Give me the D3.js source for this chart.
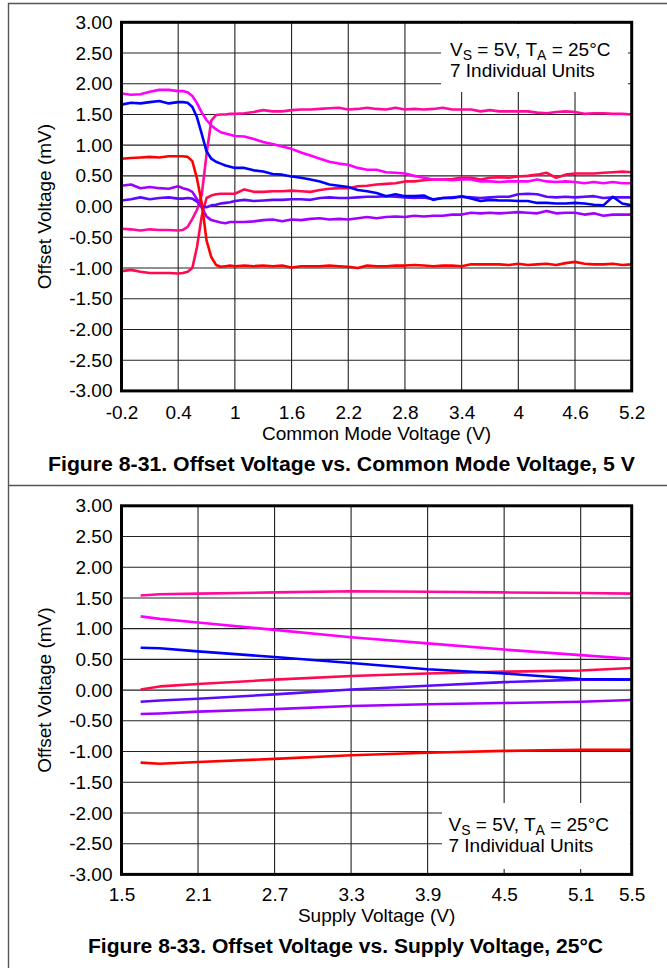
<!DOCTYPE html>
<html>
<head>
<meta charset="utf-8">
<script src="https://cdn.jsdelivr.net/npm/d3@7"></script>
<style>
  body { margin: 0; background: #fff; }
  svg { display: block; }
  text { font-family: 'Liberation Sans', Arial, sans-serif; fill: #000; }
</style>
</head>
<body>
<svg></svg>
<script>
// ---- Figure 8-31: offset voltage vs common mode voltage (7 units) ----
let cmVoltage = [
  -0.2, -0.1, 0, 0.1, 0.2, 0.3, 0.4,
  0.45, 0.5, 0.55, 0.6, 0.65, 0.7, 0.75, 0.8, 0.85, 0.9, 0.95,
  1, 1.1, 1.2, 1.3, 1.4, 1.5, 1.6, 1.7, 1.8, 1.9,
  2, 2.1, 2.2, 2.3, 2.4, 2.5, 2.6, 2.7, 2.8, 2.9,
  3, 3.1, 3.2, 3.3, 3.4, 3.5, 3.6, 3.7, 3.8, 3.9,
  4, 4.1, 4.2, 4.3, 4.4, 4.5, 4.6, 4.7, 4.8, 4.9,
  5, 5.1, 5.2
]
let cmUnitMagenta = [
  1.84, 1.82, 1.83, 1.87, 1.90, 1.90, 1.88,
  1.88, 1.86, 1.80, 1.68, 1.53, 1.41, 1.32, 1.26, 1.21, 1.19, 1.17,
  1.15, 1.14, 1.10, 1.05, 1.02, 0.98, 0.94, 0.88, 0.83, 0.78,
  0.73, 0.70, 0.68, 0.63, 0.60, 0.60, 0.56, 0.55, 0.54, 0.50,
  0.47, 0.44, 0.44, 0.43, 0.44, 0.44, 0.41, 0.41, 0.40, 0.41,
  0.41, 0.41, 0.44, 0.41, 0.40, 0.41, 0.40, 0.38, 0.40, 0.38,
  0.40, 0.38, 0.38
]
let cmUnitBlue = [
  1.66, 1.69, 1.68, 1.70, 1.72, 1.68, 1.70,
  1.70, 1.69, 1.62, 1.45, 1.18, 0.90, 0.78, 0.73, 0.70, 0.67, 0.65,
  0.63, 0.63, 0.59, 0.57, 0.53, 0.52, 0.49, 0.47, 0.44, 0.41,
  0.36, 0.34, 0.32, 0.27, 0.25, 0.22, 0.17, 0.20, 0.17, 0.17,
  0.18, 0.11, 0.14, 0.14, 0.17, 0.13, 0.09, 0.11, 0.10, 0.10,
  0.09, 0.09, 0.06, 0.06, 0.05, 0.05, 0.06, 0.05, 0.03, 0.02,
  0.16, 0.05, 0.02
]
let cmUnitRed = [
  0.78, 0.79, 0.80, 0.81, 0.80, 0.82, 0.82,
  0.82, 0.81, 0.74, 0.45, 0.05, -0.55, -0.82, -0.95, -0.98, -0.97, -0.96,
  -0.97, -0.96, -0.97, -0.96, -0.97, -0.96, -0.99, -0.97, -0.97, -0.97,
  -0.96, -0.97, -0.98, -1.00, -0.96, -0.97, -0.97, -0.96, -0.96, -0.95,
  -0.96, -0.97, -0.96, -0.96, -0.97, -0.94, -0.94, -0.94, -0.94, -0.95,
  -0.93, -0.95, -0.94, -0.93, -0.95, -0.92, -0.90, -0.93, -0.94, -0.94,
  -0.93, -0.95, -0.94
]
let cmUnitCrimson = [
  -1.05, -1.03, -1.06, -1.08, -1.08, -1.08, -1.09,
  -1.08, -1.06, -1.00, -0.65, -0.15, 0.14, 0.18, 0.20, 0.21, 0.21, 0.21,
  0.21, 0.28, 0.24, 0.24, 0.25, 0.25, 0.26, 0.25, 0.24, 0.27,
  0.29, 0.30, 0.30, 0.33, 0.34, 0.36, 0.37, 0.38, 0.41, 0.41,
  0.43, 0.44, 0.44, 0.45, 0.47, 0.47, 0.44, 0.47, 0.48, 0.47,
  0.49, 0.50, 0.52, 0.55, 0.47, 0.52, 0.54, 0.54, 0.54, 0.55,
  0.56, 0.57, 0.56
]
let cmUnitPink = [
  -0.36, -0.37, -0.39, -0.37, -0.38, -0.38, -0.39,
  -0.38, -0.33, -0.20, -0.05, 0.20, 0.85, 1.40, 1.49, 1.50, 1.50, 1.51,
  1.51, 1.52, 1.54, 1.57, 1.55, 1.55, 1.57, 1.58, 1.58, 1.59,
  1.60, 1.61, 1.58, 1.59, 1.61, 1.59, 1.58, 1.61, 1.58, 1.59,
  1.58, 1.59, 1.61, 1.58, 1.58, 1.58, 1.55, 1.57, 1.55, 1.55,
  1.55, 1.55, 1.53, 1.52, 1.54, 1.55, 1.54, 1.51, 1.52, 1.52,
  1.51, 1.51, 1.50
]
let cmUnitPurple = [
  0.34, 0.36, 0.30, 0.32, 0.30, 0.29, 0.33,
  0.30, 0.28, 0.24, 0.12, -0.02, -0.16, -0.22, -0.24, -0.26, -0.27, -0.25,
  -0.25, -0.25, -0.24, -0.22, -0.21, -0.24, -0.21, -0.22, -0.20, -0.19,
  -0.21, -0.20, -0.21, -0.19, -0.17, -0.19, -0.17, -0.16, -0.17, -0.15,
  -0.16, -0.15, -0.15, -0.13, -0.13, -0.10, -0.11, -0.10, -0.11, -0.10,
  -0.09, -0.10, -0.11, -0.07, -0.11, -0.10, -0.10, -0.13, -0.11, -0.15,
  -0.13, -0.13, -0.13
]
let cmUnitViolet = [
  0.10, 0.12, 0.15, 0.12, 0.14, 0.15, 0.13,
  0.13, 0.14, 0.13, 0.08, 0.01, -0.01, 0.02, 0.03, 0.05, 0.06, 0.07,
  0.09, 0.11, 0.09, 0.10, 0.11, 0.11, 0.12, 0.12, 0.11, 0.14,
  0.15, 0.14, 0.14, 0.15, 0.16, 0.16, 0.17, 0.16, 0.15, 0.14,
  0.15, 0.12, 0.14, 0.15, 0.16, 0.15, 0.14, 0.15, 0.16, 0.16,
  0.20, 0.21, 0.20, 0.16, 0.15, 0.16, 0.15, 0.16, 0.17, 0.14,
  0.15, 0.15, 0.15
]
let cmTicks = [-0.2, 0.4, 1, 1.6, 2.2, 2.8, 3.4, 4, 4.6, 5.2]

// ---- Figure 8-33: offset voltage vs supply voltage (7 units) ----
let supplyVoltage = [1.65, 1.8, 2.1, 2.7, 3.3, 3.9, 4.5, 5.1, 5.5]
let svUnitPink    = [1.54, 1.56, 1.57, 1.59, 1.61, 1.60, 1.59, 1.58, 1.57]
let svUnitMagenta = [1.20, 1.16, 1.10, 0.98, 0.86, 0.76, 0.66, 0.57, 0.51]
let svUnitBlue    = [0.69, 0.68, 0.63, 0.54, 0.44, 0.34, 0.27, 0.18, 0.17]
let svUnitCrimson = [0.01, 0.06, 0.10, 0.17, 0.23, 0.27, 0.30, 0.32, 0.36]
let svUnitViolet  = [-0.19, -0.17, -0.14, -0.07, 0.01, 0.07, 0.13, 0.17, 0.17]
let svUnitPurple  = [-0.39, -0.38, -0.35, -0.31, -0.26, -0.23, -0.21, -0.19, -0.16]
let svUnitRed     = [-1.18, -1.20, -1.17, -1.12, -1.06, -1.02, -0.99, -0.97, -0.97]
let svTicks = [1.5, 2.1, 2.7, 3.3, 3.9, 4.5, 5.1, 5.5]

let offsetTicks = [3, 2.5, 2, 1.5, 1, 0.5, 0, -0.5, -1, -1.5, -2, -2.5, -3]

// ---- layout ----
let width = 667
let height = 968
let plotLeft = 121.5
let plotRight = 631.7
let plotHeight = 368.6
let fontSize = '19px'

let colors = {
  magenta: '#ff00ff',
  blue: '#0000ff',
  red: '#ff0000',
  crimson: '#ff0a4e',
  pink: '#ff0a9c',
  purple: '#a000ff',
  violet: '#5a0aff'
}

let svg = d3.select('svg')
  .attr('width', width)
  .attr('height', height)

let drawFrame = () => {
  svg.append('path')
    .attr('d', 'M8.5,968V3.5H667M8.5,485.5H667')
    .attr('fill', 'none')
    .attr('stroke', '#555')
    .attr('stroke-width', 1.4)
}

let drawPanel = (p) => {
  let top = p.top
  let bottom = top + plotHeight

  let xScale = d3.scaleLinear()
    .domain([p.xTicks[0], p.xTicks[p.xTicks.length - 1]])
    .range([plotLeft, plotRight])

  let yScale = d3.scaleLinear()
    .domain([-3, 3])
    .range([bottom, top])

  let g = svg.append('g')

  // grid
  g.selectAll('.vgrid')
    .data(p.xTicks.slice(1, -1))
    .enter()
    .append('line')
    .attr('x1', (d) => xScale(d))
    .attr('x2', (d) => xScale(d))
    .attr('y1', top)
    .attr('y2', bottom)
    .attr('stroke', '#222')
    .attr('stroke-width', 1.1)

  g.selectAll('.hgrid')
    .data(offsetTicks.slice(1, -1))
    .enter()
    .append('line')
    .attr('x1', plotLeft)
    .attr('x2', plotRight)
    .attr('y1', (d) => yScale(d))
    .attr('y2', (d) => yScale(d))
    .attr('stroke', '#222')
    .attr('stroke-width', 1.1)

  // note box blanks the grid behind the text
  g.append('rect')
    .attr('x', p.note.x0)
    .attr('y', p.note.y0)
    .attr('width', p.note.x1 - p.note.x0)
    .attr('height', p.note.y1 - p.note.y0)
    .attr('fill', '#fff')

  let note = g.append('text')
    .attr('x', p.note.tx)
    .attr('y', p.note.ty)
    .style('font-size', fontSize)
  note.append('tspan').text('V')
  note.append('tspan').text('S').attr('dy', 4).style('font-size', '14px')
  note.append('tspan').text(' = 5V, T').attr('dy', -4)
  note.append('tspan').text('A').attr('dy', 4).style('font-size', '14px')
  note.append('tspan').text(' = 25°C').attr('dy', -4)

  g.append('text')
    .attr('x', p.note.tx)
    .attr('y', p.note.ty + 21)
    .style('font-size', fontSize)
    .text('7 Individual Units')

  // unit curves
  let line = d3.line()
    .x((d) => xScale(d[0]))
    .y((d) => yScale(d[1]))

  p.series.forEach((s) => {
    g.append('path')
      .datum(p.xValues.map((x, i) => [x, s.values[i]]))
      .attr('d', line)
      .attr('fill', 'none')
      .attr('stroke', s.color)
      .attr('stroke-width', 2.6)
      .attr('stroke-linejoin', 'round')
  })

  // plot border
  g.append('rect')
    .attr('x', plotLeft)
    .attr('y', top)
    .attr('width', plotRight - plotLeft)
    .attr('height', plotHeight)
    .attr('fill', 'none')
    .attr('stroke', '#000')
    .attr('stroke-width', 3)

  // axes
  let xAxis = d3.axisBottom(xScale)
    .tickValues(p.xTicks)
    .tickSize(0)
    .tickPadding(p.xPad)
    .tickFormat((d) => String(d))

  let yAxis = d3.axisLeft(yScale)
    .tickValues(offsetTicks)
    .tickSize(0)
    .tickPadding(9)
    .tickFormat((d) => d.toFixed(2))

  let gx = g.append('g')
    .attr('transform', 'translate(0,' + bottom + ')')
    .call(xAxis)
  let gy = g.append('g')
    .attr('transform', 'translate(' + plotLeft + ',0)')
    .call(yAxis)

  ;[gx, gy].forEach((a) => {
    a.select('.domain').remove()
    a.selectAll('text')
      .style('font-size', fontSize)
      .style('font-family', "'Liberation Sans', Arial, sans-serif")
      .attr('fill', '#000')
  })

  g.append('text')
    .attr('x', (plotLeft + plotRight) / 2)
    .attr('y', bottom + p.xTitleGap)
    .style('text-anchor', 'middle')
    .style('font-size', fontSize)
    .text(p.xTitle)

  g.append('text')
    .attr('transform', 'translate(51,' + (top + bottom) / 2 + ') rotate(-90)')
    .style('text-anchor', 'middle')
    .style('font-size', fontSize)
    .text('Offset Voltage (mV)')

  g.append('text')
    .attr('x', p.caption.x)
    .attr('y', bottom + p.caption.gap)
    .attr('textLength', p.caption.width)
    .attr('lengthAdjust', 'spacingAndGlyphs')
    .style('text-anchor', 'middle')
    .style('font-size', '20px')
    .style('font-weight', 'bold')
    .text(p.caption.text)
}

drawFrame()

drawPanel({
  top: 22.3,
  xValues: cmVoltage,
  xTicks: cmTicks,
  xPad: 15,
  xTitle: 'Common Mode Voltage (V)',
  xTitleGap: 49,
  note: { x0: 441, x1: 628, y0: 24, y1: 92, tx: 450, ty: 56 },
  caption: { x: 341.5, gap: 80, width: 587, text: 'Figure 8-31. Offset Voltage vs. Common Mode Voltage, 5 V' },
  series: [
    { values: cmUnitPink, color: colors.pink },
    { values: cmUnitCrimson, color: colors.crimson },
    { values: cmUnitViolet, color: colors.violet },
    { values: cmUnitPurple, color: colors.purple },
    { values: cmUnitRed, color: colors.red },
    { values: cmUnitMagenta, color: colors.magenta },
    { values: cmUnitBlue, color: colors.blue }
  ]
})

drawPanel({
  top: 505.8,
  xValues: supplyVoltage,
  xTicks: svTicks,
  xPad: 13,
  xTitle: 'Supply Voltage (V)',
  xTitleGap: 48,
  note: { x0: 442, x1: 630, y0: 803, y1: 869, tx: 448.5, ty: 831 },
  caption: { x: 345.5, gap: 79, width: 515, text: 'Figure 8-33. Offset Voltage vs. Supply Voltage, 25°C' },
  series: [
    { values: svUnitPink, color: colors.pink },
    { values: svUnitMagenta, color: colors.magenta },
    { values: svUnitCrimson, color: colors.crimson },
    { values: svUnitPurple, color: colors.purple },
    { values: svUnitViolet, color: colors.violet },
    { values: svUnitBlue, color: colors.blue },
    { values: svUnitRed, color: colors.red }
  ]
})
</script>
</body>
</html>
